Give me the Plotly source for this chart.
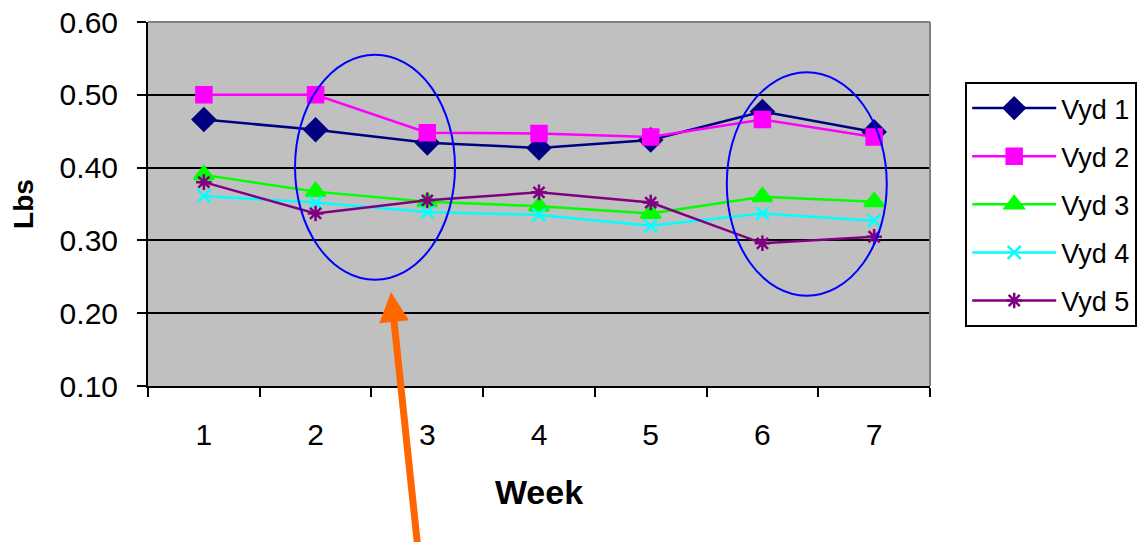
import plotly.graph_objects as go

weeks = [1, 2, 3, 4, 5, 6, 7]
series_names = ["Vyd 1", "Vyd 2", "Vyd 3", "Vyd 4", "Vyd 5"]
vyd1 = [0.466, 0.452, 0.434, 0.427, 0.438, 0.477, 0.449]
vyd2 = [0.500, 0.500, 0.448, 0.447, 0.442, 0.466, 0.442]
vyd3 = [0.390, 0.367, 0.353, 0.347, 0.337, 0.360, 0.353]
vyd4 = [0.361, 0.352, 0.339, 0.335, 0.320, 0.337, 0.327]
vyd5 = [0.380, 0.337, 0.355, 0.366, 0.352, 0.296, 0.305]
y_ticks = [0.10, 0.20, 0.30, 0.40, 0.50, 0.60]

colors = ["#000080", "#FF00FF", "#00FF00", "#00FFFF", "#800080"]
symbols = ["diamond", "square", "triangle-up", "x-thin-open", "asterisk-open"]
sizes = [17, 15, 17, 13, 13]
all_series = [vyd1, vyd2, vyd3, vyd4, vyd5]

FONT = "Liberation Sans, Arial, sans-serif"

fig = go.Figure()
for name, vals, c, s, sz in zip(series_names, all_series, colors, symbols, sizes):
    fig.add_trace(go.Scatter(
        x=weeks, y=vals, name=name, mode="lines+markers",
        line=dict(color=c, width=2.5),
        marker=dict(symbol=s, size=sz, color=c, line=dict(color=c, width=2.5)),
        legendgroup=name,
    ))

fig.update_layout(
    width=1140, height=542,
    margin=dict(l=148, r=210, t=22, b=156, autoexpand=False),
    paper_bgcolor="white",
    plot_bgcolor="#C0C0C0",
    font=dict(family=FONT, color="black"),
    showlegend=True,
    legend=dict(
        x=1.045, y=0.835, xanchor="left", yanchor="top",
        bgcolor="white", bordercolor="black", borderwidth=2,
        font=dict(size=27, family=FONT),
        traceorder="grouped", tracegroupgap=10,
        itemwidth=84,
    ),
    xaxis=dict(
        range=[0.5, 7.5], tickmode="array", tickvals=weeks,
        ticktext=[str(w) for w in weeks],
        ticks="", showgrid=False, zeroline=False, automargin=False,
        showline=True, linecolor="black", linewidth=2,
        tickfont=dict(size=30, family=FONT),
        ticklabelstandoff=21,
        minor=dict(tickmode="array", tickvals=[0.5 + i for i in range(8)],
                   ticks="outside", ticklen=9, tickwidth=2, tickcolor="black",
                   showgrid=False),
        title=dict(text="<b>Week</b>", font=dict(size=34, family=FONT), standoff=30),
    ),
    yaxis=dict(
        range=[0.1, 0.6], tickmode="array", tickvals=y_ticks,
        tickformat=".2f", automargin=False,
        ticks="outside", ticklen=9, tickwidth=2, tickcolor="black",
        showgrid=True, gridcolor="black", gridwidth=2, zeroline=False,
        showline=True, linecolor="black", linewidth=2,
        tickfont=dict(size=30, family=FONT),
        ticklabelstandoff=13,
        title=dict(text="<b>Lbs</b>", font=dict(size=28, family=FONT), standoff=18),
    ),
    shapes=[
        dict(type="line", xref="paper", yref="paper", x0=0, x1=1, y0=1, y1=1,
             line=dict(color="#808080", width=2), layer="above"),
        dict(type="line", xref="paper", yref="paper", x0=1, x1=1, y0=0, y1=1,
             line=dict(color="#808080", width=2), layer="above"),
        dict(type="circle", xref="x", yref="y", x0=1.816, x1=3.248, y0=0.246, y1=0.555,
             line=dict(color="#0000FF", width=2), layer="above"),
        dict(type="circle", xref="x", yref="y", x0=5.681, x1=7.113, y0=0.224, y1=0.531,
             line=dict(color="#0000FF", width=2), layer="above"),
    ],
    annotations=[
        dict(x=2.675, y=0.229, xref="x", yref="y",
             ax=2.917, ay=-0.125, axref="x", ayref="y",
             text="", showarrow=True, arrowhead=2, arrowsize=0.85,
             arrowwidth=7, arrowcolor="#FF6600", standoff=0),
    ],
)

fig.write_html("out.html")
